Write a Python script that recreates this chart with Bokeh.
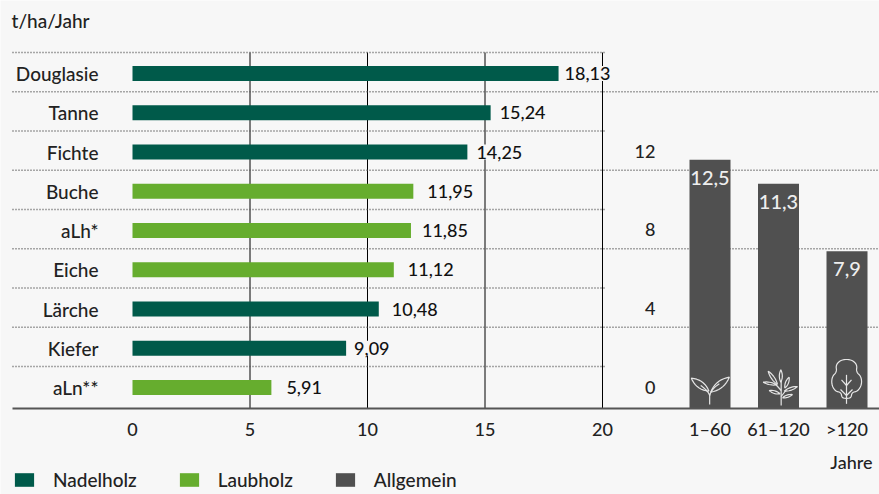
from bokeh.plotting import figure
from bokeh.models import Range1d, FixedTicker, Label, Legend, LegendItem
from bokeh.core.properties import value
from bokeh.embed import file_html
from bokeh.resources import INLINE
import numpy as np

# ---------- data ----------
species = ["Douglasie", "Tanne", "Fichte", "Buche", "aLh*", "Eiche", "Lärche", "Kiefer", "aLn**"]
growth = [18.13, 15.24, 14.25, 11.95, 11.85, 11.12, 10.48, 9.09, 5.91]
growth_labels = ["18,13", "15,24", "14,25", "11,95", "11,85", "11,12", "10,48", "9,09", "5,91"]
groups = ["Nadelholz", "Nadelholz", "Nadelholz", "Laubholz", "Laubholz", "Laubholz", "Nadelholz", "Nadelholz", "Laubholz"]
x_ticks = [0, 5, 10, 15, 20]

age_classes = ["1–60", "61–120", ">120"]
age_values = [12.5, 11.3, 7.9]
age_labels = ["12,5", "11,3", "7,9"]
age_ticks = [0, 4, 8, 12]

# ---------- style ----------
BG = "#f7f7f7"
NADEL = "#005a4a"
LAUB = "#66ad2e"
GRAU = "#505050"
INK = "#222222"
FONT = "Lato Medium"
FS = "18px"
FL = "19px"
label_gaps = [5, 8, 8, 13, 10, 13, 12, 7, 14]
age_tick_offsets = [-21, -20, -20, -18]

W, H = 879, 494
L, T, B = 12, 52, 408
SX = 23.5   # px per t/ha/Jahr
X0 = 132    # px of zero
SY = 39.25  # px per row
Y0 = 73     # px of first row
SA = 68.5   # px per age class
XA = 709.5  # px of first age class
SV = 19.9   # px per value in age panel

p = figure(width=W, height=H, output_backend="svg", toolbar_location=None,
           x_range=Range1d((0 - X0) / SX, (W - X0) / SX),
           y_range=Range1d((H - Y0) / SY, (0 - Y0) / SY),
           min_border_left=0, min_border_right=0, min_border_top=0, min_border_bottom=0,
           background_fill_color=BG, border_fill_color=BG, outline_line_color=None)
p.extra_x_ranges["age"] = Range1d((0 - XA) / SA, (W - XA) / SA)
p.extra_y_ranges["val"] = Range1d((B - H) / SV, B / SV)

y_base = (B - Y0) / SY
y_top = (T - Y0) / SY

# ---------- axes (placed inside the frame) ----------
age_pos = [(XA + i * SA - X0) / SX for i in range(len(age_classes))]
xa = p.xaxis[0]
xa.ticker = FixedTicker(ticks=x_ticks + age_pos)
xa.major_label_overrides = {pos: lab for pos, lab in zip(age_pos, age_classes)}
xa.fixed_location = y_base
xa.bounds = ((L - X0) / SX, (W - X0) / SX)
xa.axis_line_color = "#555555"
xa.axis_line_width = 2
xa.major_tick_line_color = None
xa.minor_tick_line_color = None
xa.major_tick_out = 0
xa.major_tick_in = 0
xa.major_label_standoff = 9
xa.major_label_text_font = FONT
xa.major_label_text_font_size = FS
xa.major_label_text_color = INK

ya = p.yaxis[0]
ya.ticker = FixedTicker(ticks=list(range(len(species))))
ya.major_label_overrides = {i: s for i, s in enumerate(species)}
ya.fixed_location = (98 - X0) / SX
ya.axis_line_color = None
ya.major_tick_line_color = None
ya.minor_tick_line_color = None
ya.major_tick_out = 0
ya.major_tick_in = 0
ya.major_label_standoff = 0
ya.major_label_text_font = FONT
ya.major_label_text_font_size = FL
ya.major_label_text_color = INK

# ---------- grid ----------
p.ygrid.visible = False
p.xgrid.visible = False
p.segment(x0=x_ticks[1:], x1=x_ticks[1:], y0=[y_top] * 4, y1=[y_base] * 4,
          line_color="#000000", line_width=1)

edges = [i - 0.535 for i in range(len(species))]
x_left = (L - X0) / SX
x_mid = (604 - X0) / SX
x_end = (W - X0) / SX
x1s = [x_end if i % 2 == 1 else x_mid for i in range(len(edges))]
p.segment(x0=[x_left] * len(edges), x1=x1s, y0=edges, y1=edges,
          line_color="#555555", line_width=1.5, line_dash="1 2")

# ---------- bars left ----------
idx = list(range(len(species)))
rends = {}
for grp, col in (("Nadelholz", NADEL), ("Laubholz", LAUB)):
    sel = [i for i in idx if groups[i] == grp]
    rends[grp] = p.hbar(y=sel, left=0, right=[growth[i] for i in sel], height=15 / SY,
                        color=col, line_color=None)

p.text(x=growth, y=idx, text=growth_labels, x_offset=label_gaps,
       text_font=value(FONT), text_font_size=FS, text_color="#111111",
       text_align="left", text_baseline="middle",
       background_fill_color=BG, padding=1)

# ---------- bars right ----------
rends["Allgemein"] = p.vbar(x=[0, 1, 2], bottom=0, top=age_values, width=41 / SA, color=GRAU,
                            line_color=None, x_range_name="age", y_range_name="val")
p.text(x=[0, 1, 2], y=age_values, text=age_labels, y_offset=18,
       text_font=value(FONT), text_font_size="20px", text_color="#eeeeee",
       text_align="center", text_baseline="middle",
       x_range_name="age", y_range_name="val")
p.text(x=[(655 - XA) / SA] * len(age_ticks), y=age_ticks, text=[str(t) for t in age_ticks],
       y_offset=age_tick_offsets,
       text_font=value(FONT), text_font_size=FS, text_color=INK,
       text_align="right", text_baseline="middle",
       x_range_name="age", y_range_name="val")

# ---------- icons (decoration, drawn in pixel offsets from each bar) ----------
def quad(a, c, b, n=10):
    t = np.linspace(0, 1, n)[:, None]
    a, c, b = map(np.array, (a, c, b))
    return ((1 - t) ** 2 * a + 2 * t * (1 - t) * c + t ** 2 * b).tolist()

def leaf(base, tip, bulge):
    bx, by = base; tx, ty = tip
    mx, my = (bx + tx) / 2, (by + ty) / 2
    nx, ny = -(ty - by), (tx - bx)
    ln = (nx ** 2 + ny ** 2) ** 0.5
    nx, ny = nx / ln * bulge, ny / ln * bulge
    return quad(base, (mx + nx, my + ny), tip) + quad(tip, (mx - nx, my - ny), base)[1:]

def chaikin(pts, n=3):
    pts = np.array(pts, dtype=float)
    for _ in range(n):
        nxt = np.roll(pts, -1, axis=0)
        pts = np.stack([0.75 * pts + 0.25 * nxt, 0.25 * pts + 0.75 * nxt], axis=1).reshape(-1, 2)
    pts = np.vstack([pts, pts[:1]])
    return pts.tolist()

icon_paths = {
    0: (328, [
        [(327, 192), (327, 160)],
        quad((327, 165), (322, 150), (300, 135)),
        quad((327, 165), (332, 145), (356, 130)),
        leaf((325, 152), (272, 113), 20),
        leaf((330, 155), (386, 110), 20),
    ]),
    1: (533, [
        [(541, 195), (541, 118)],
        leaf((540, 125), (540, 88), 9),
        leaf((530, 132), (502, 92), 9),
        leaf((552, 143), (565, 110), 9),
        leaf((528, 133), (487, 125), 7),
        leaf((550, 152), (590, 138), 8),
        leaf((538, 160), (505, 150), 8),
        leaf((545, 172), (575, 162), 7),
        [(541, 150), (525, 132)],
        [(541, 168), (555, 150)],
    ]),
    2: (739.5, [
        chaikin([(738, 56), (757, 60), (770, 74), (767, 94), (782, 108), (784, 132),
                 (772, 152), (754, 156), (752, 172), (738, 174), (724, 172), (722, 156),
                 (704, 152), (693, 132), (695, 108), (709, 94), (706, 74), (719, 60)], n=2),
        [(738, 190), (738, 103)],
        [(738, 135), (723, 118)],
        [(738, 135), (753, 118)],
        [(738, 165), (720, 147)],
        [(738, 165), (756, 147)],
    ]),
}
xs, ys = [], []
for k, (cz, paths) in icon_paths.items():
    for path in paths:
        xs.append([k + (px - cz) / 3 / SA for px, _ in path])
        ys.append([(204 - py) / 3 / SV for _, py in path])
p.multi_line(xs, ys, line_color="#e6e6e6", line_width=1.2, x_range_name="age", y_range_name="val")

# ---------- free texts ----------
p.add_layout(Label(x=11, y=H - 20, x_units="screen", y_units="screen", text="t/ha/Jahr",
                   text_font=FONT, text_font_size=FL, text_color=INK, text_baseline="middle"))
p.add_layout(Label(x=872, y=H - 461, x_units="screen", y_units="screen", text="Jahre",
                   text_font=FONT, text_font_size=FS, text_color=INK, text_baseline="middle",
                   text_align="right"))

# ---------- legend ----------
lg = Legend(items=[LegendItem(label=k, renderers=[rends[k]]) for k in ("Nadelholz", "Laubholz", "Allgemein")],
            location=(12, 3), orientation="horizontal", margin=0, padding=0, spacing=40,
            glyph_width=24, glyph_height=17, label_standoff=17, label_height=17,
            label_text_font=FONT, label_text_font_size=FL, label_text_color=INK,
            background_fill_alpha=0, border_line_color=None)
p.add_layout(lg)

html = file_html(p, INLINE)
html = html.replace("<body>", '<body style="margin:0;overflow:hidden;background:%s">' % BG, 1)
open("out.html", "w").write(html)
